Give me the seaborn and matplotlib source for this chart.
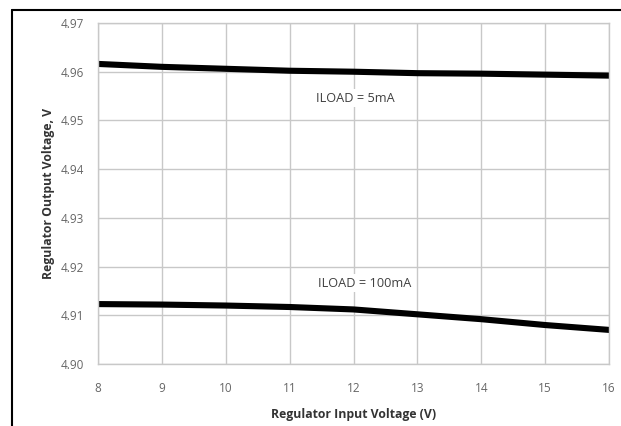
import matplotlib
matplotlib.use("Agg")
import matplotlib.pyplot as plt
import seaborn as sns
import pandas as pd
from matplotlib.lines import Line2D

# Input voltage (V)
vin = [8, 9, 10, 11, 12, 13, 14, 15, 16]
# Output voltage at 5 mA and 100 mA load
vout_5ma = [4.9616, 4.9610, 4.9606, 4.9602, 4.9600, 4.9597, 4.9596, 4.9594, 4.9592]
vout_100ma = [4.9123, 4.9122, 4.9120, 4.9117, 4.9112, 4.9102, 4.9092, 4.9080, 4.9070]

x_ticks = [8, 9, 10, 11, 12, 13, 14, 15, 16]
y_ticks = [4.90, 4.91, 4.92, 4.93, 4.94, 4.95, 4.96, 4.97]

df = pd.DataFrame({"vin": vin + vin,
                   "vout": vout_5ma + vout_100ma,
                   "load": ["5mA"] * len(vin) + ["100mA"] * len(vin)})

sns.set_style("white")
plt.rcParams['font.family'] = ['Open Sans', 'DejaVu Sans']

fig = plt.figure(figsize=(6.21, 4.26), dpi=100)
ax = fig.add_axes([98 / 621, 1 - 364 / 426, (609 - 98) / 621, (364 - 23) / 426])

sns.lineplot(data=df, x="vin", y="vout", hue="load", palette=["black", "black"],
             linewidth=4.4, legend=False, ax=ax)

ax.set_xlim(8, 16)
ax.set_ylim(4.90, 4.97)
ax.set_xticks(x_ticks)
ax.set_yticks(y_ticks)
ax.set_yticklabels([f"{v:.2f}" for v in y_ticks])
ax.grid(True, color="#c8c8c8", linewidth=1.0)
ax.set_axisbelow(True)
for s in ax.spines.values():
    s.set_color("#c8c8c8")
    s.set_linewidth(1.0)
ax.tick_params(axis="both", length=0, labelsize=8.5, colors="#666666", pad=10)
ax.tick_params(axis="x", pad=13)

ax.set_xlabel("Regulator Input Voltage (V)", fontsize=8.8, fontweight="bold",
              color="#333333", labelpad=9)
ax.set_ylabel("Regulator Output Voltage, V", fontsize=8.8, fontweight="bold",
              color="#333333", labelpad=4)

box = dict(facecolor="white", edgecolor="none", pad=2)
ax.text(11.41, 4.9546, "ILOAD = 5mA", fontsize=9.2, color="#404040",
        va="center", ha="left", bbox=box)
ax.text(11.44, 4.9166, "ILOAD = 100mA", fontsize=9.2, color="#404040",
        va="center", ha="left", bbox=box)

# outer chart frame (top and left edges)
fig.add_artist(Line2D([12 / 621, 12 / 621], [0, 1 - 10 / 426], color="black",
                      linewidth=1.5, transform=fig.transFigure))
fig.add_artist(Line2D([12 / 621, 1], [1 - 10 / 426, 1 - 10 / 426], color="black",
                      linewidth=1.5, transform=fig.transFigure))

fig.savefig("out.png", dpi=100)
